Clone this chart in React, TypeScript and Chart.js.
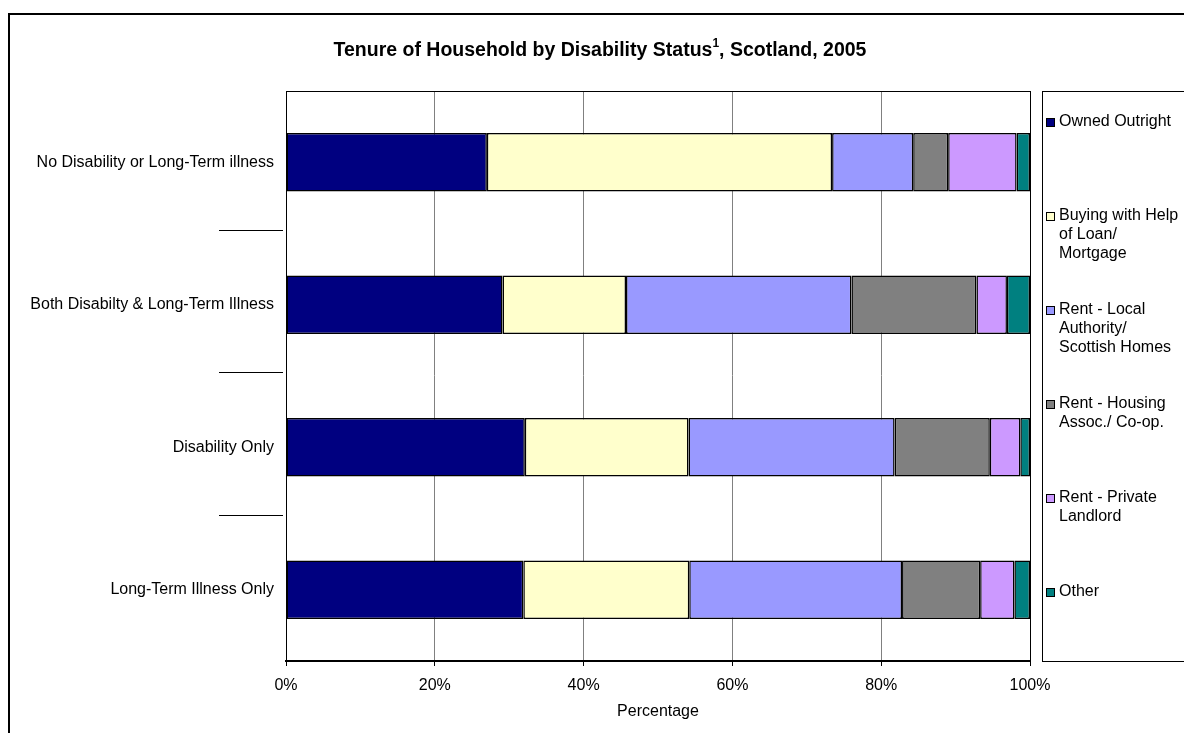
import React, { useEffect, useRef } from 'react';
import { Chart, registerables } from 'chart.js';

Chart.register(...registerables);

const FONT = 'Arial, "Liberation Sans", sans-serif';

const categories = [
  'No Disability or Long-Term illness',
  'Both Disabilty & Long-Term Illness',
  'Disability Only',
  'Long-Term Illness Only',
];

const seriesNames = [
  'Owned Outright',
  'Buying with Help of Loan/ Mortgage',
  'Rent - Local Authority/ Scottish Homes',
  'Rent - Housing Assoc./ Co-op.',
  'Rent - Private Landlord',
  'Other',
];

const legendLines: string[][] = [
  ['Owned Outright'],
  ['Buying with Help', 'of Loan/', 'Mortgage'],
  ['Rent - Local', 'Authority/', 'Scottish Homes'],
  ['Rent - Housing', 'Assoc./ Co-op.'],
  ['Rent - Private', 'Landlord'],
  ['Other'],
];

const ownedOutright = [27.0, 29.1, 32.1, 31.9];
const buyingWithLoan = [46.4, 16.6, 22.0, 22.3];
const rentLocalAuthority = [10.9, 30.3, 27.7, 28.6];
const rentHousingAssoc = [4.7, 16.8, 12.8, 10.5];
const rentPrivate = [9.2, 4.1, 4.1, 4.6];
const other = [1.8, 3.1, 1.3, 2.1];

const xTicks = [0, 20, 40, 60, 80, 100];

const seriesValues = [ownedOutright, buyingWithLoan, rentLocalAuthority, rentHousingAssoc, rentPrivate, other];
const seriesColors = ['#000080', '#FFFFCC', '#9999FF', '#808080', '#CC99FF', '#008080'];

const titleMain = 'Tenure of Household by Disability Status';
const titleSup = '1';
const titleRest = ', Scotland, 2005';
const xAxisTitle = 'Percentage';

const decorPlugin = {
  id: 'decor',
  beforeDraw(chart: any) {
    const ctx = chart.ctx;
    ctx.save();
    ctx.fillStyle = '#ffffff';
    ctx.fillRect(0, 0, chart.width, chart.height);
    ctx.restore();
  },
  afterDraw(chart: any) {
    const ctx = chart.ctx as CanvasRenderingContext2D;
    const area = chart.chartArea;
    const yScale = chart.scales.y;
    ctx.save();

    // outer border
    ctx.strokeStyle = '#000';
    ctx.lineWidth = 2;
    ctx.strokeRect(9, 14, chart.width + 20, chart.height + 20);

    // plot border
    ctx.lineWidth = 1;
    ctx.strokeStyle = '#000';
    ctx.strokeRect(area.left + 0.5, area.top + 0.5, area.right - area.left, area.bottom - area.top);

    // title
    const tSize = 19.5;
    ctx.fillStyle = '#000';
    ctx.textBaseline = 'middle';
    ctx.font = `bold ${tSize}px ${FONT}`;
    const w1 = ctx.measureText(titleMain).width;
    const w3 = ctx.measureText(titleRest).width;
    ctx.font = `bold 12px ${FONT}`;
    const w2 = ctx.measureText(titleSup).width;
    const total = w1 + w2 + w3;
    let tx = 600 - total / 2;
    ctx.textAlign = 'left';
    ctx.font = `bold ${tSize}px ${FONT}`;
    ctx.fillText(titleMain, tx, 51);
    tx += w1;
    ctx.font = `bold 12px ${FONT}`;
    ctx.fillText(titleSup, tx, 44);
    tx += w2;
    ctx.font = `bold ${tSize}px ${FONT}`;
    ctx.fillText(titleRest, tx, 51);

    // x axis title
    ctx.font = `16px ${FONT}`;
    ctx.textAlign = 'center';
    ctx.fillText(xAxisTitle, (area.left + area.right) / 2, 712);

    // category separators
    ctx.strokeStyle = '#000';
    ctx.lineWidth = 1;
    for (let i = 0; i < categories.length - 1; i++) {
      const yb = Math.round((yScale.getPixelForValue(i) + yScale.getPixelForValue(i + 1)) / 2) - 3.5;
      ctx.beginPath();
      ctx.moveTo(area.left - 67, yb);
      ctx.lineTo(area.left - 3, yb);
      ctx.stroke();
    }

    // legend box
    const lx = area.right + 12;
    ctx.strokeRect(lx + 0.5, area.top + 0.5, chart.width, area.bottom - area.top);

    // legend entries
    ctx.font = `16px ${FONT}`;
    ctx.textAlign = 'left';
    const step = 94;
    const start = area.top + 31;
    const lineH = 18.7;
    legendLines.forEach((lines, i) => {
      const cy = start + i * step;
      ctx.fillStyle = seriesColors[i];
      ctx.fillRect(lx + 4, cy - 4, 9, 9);
      ctx.strokeStyle = '#000';
      ctx.lineWidth = 1;
      ctx.strokeRect(lx + 4 + 0.5, cy - 4 + 0.5, 8, 8);
      ctx.fillStyle = '#000';
      lines.forEach((t, j) => {
        ctx.fillText(t, lx + 17, cy + j * lineH);
      });
    });

    ctx.restore();
  },
};

export default function App() {
  const ref = useRef<HTMLCanvasElement | null>(null);

  useEffect(() => {
    document.body.style.margin = '0';
    const canvas = ref.current;
    if (!canvas) return;
    const chart = new Chart(canvas, {
      type: 'bar',
      data: {
        labels: categories,
        datasets: seriesValues.map((vals, i) => ({
          label: seriesNames[i],
          data: vals,
          backgroundColor: seriesColors[i],
          borderColor: '#000',
          borderWidth: 1.5,
          borderSkipped: false,
          barPercentage: 0.41,
          categoryPercentage: 1.0,
        })),
      },
      options: {
        indexAxis: 'y',
        responsive: false,
        animation: false,
        devicePixelRatio: 1,
        layout: { padding: { left: 9, right: 154, top: 91, bottom: 0 } },
        plugins: {
          legend: { display: false },
          title: { display: false },
          tooltip: { enabled: false },
        },
        scales: {
          x: {
            stacked: true,
            min: 0,
            max: 100,
            afterBuildTicks: (scale: any) => {
              scale.ticks = xTicks.map((v) => ({ value: v }));
            },
            ticks: {
              color: '#000',
              font: { size: 16, family: FONT },
              padding: 10,
              maxRotation: 0,
              callback: (v: any) => `${v}%`,
            },
            grid: {
              color: '#808080',
              lineWidth: 1,
              drawTicks: true,
              tickLength: 5,
              tickColor: '#000',
            },
            border: { display: true, color: '#000', width: 2 },
            afterFit: (scale: any) => {
              scale.height = 72;
            },
          },
          y: {
            stacked: true,
            ticks: {
              color: '#000',
              font: { size: 16, family: FONT },
              padding: 12,
            },
            grid: { display: false, drawTicks: false },
            border: { display: true, color: '#000', width: 1 },
            afterFit: (scale: any) => {
              scale.width = 277;
            },
          },
        },
      },
      plugins: [decorPlugin],
    });
    return () => chart.destroy();
  }, []);

  return (
    <div style={{ width: 1184, height: 733, position: 'relative' }}>
      <canvas ref={ref} width={1184} height={733} style={{ display: 'block', width: 1184, height: 733 }} />
    </div>
  );
}
